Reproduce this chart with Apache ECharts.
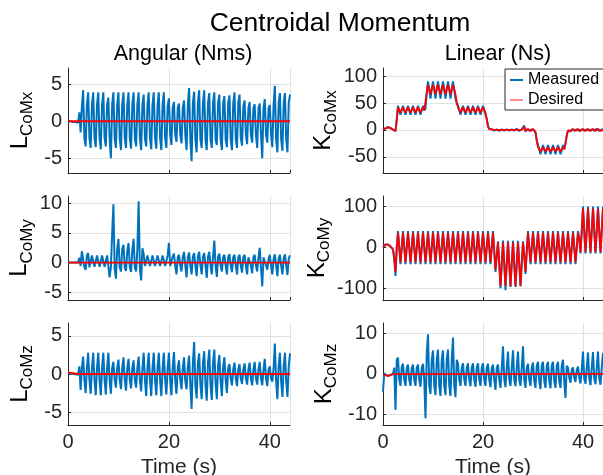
<!DOCTYPE html>
<html lang="en">
<head>
<meta charset="UTF-8">
<title>Centroidal Momentum</title>
<script src="https://cdn.jsdelivr.net/npm/echarts@6/dist/echarts.min.js"></script>
<style>html,body{margin:0;padding:0;background:#fff}</style>
</head>
<body>
<div id="main" style="width:603px;height:475px"></div>
<script>
// sampling step of the traces (s), values every quarter second
var DT = 0.25;
var xTicks = [0, 20, 40];

// ---- angular momentum, measured ----
var LxMeas = [
  0,0,0,0,  -0.1,-0.1,-0.1,-0.1,  -0.2,1.2,-1.5,2.0,  4.2,-2.3,-3.4,2.3,
  3.9,-2.3,-3.6,2.3,  3.9,-2.3,-3.5,2.3,  3.9,-2.3,-3.8,2.3,  3.9,-2.3,-3.4,2.3,
  3.2,-2.3,-5.0,2.3,  3.9,-2.3,-3.6,2.3,  3.9,-2.3,-3.9,2.3,  3.9,-2.3,-3.6,2.3,
  3.9,-2.3,-3.7,2.3,  3.9,-2.3,-3.4,2.3,  3.9,-2.3,-3.9,2.3,  3.6,-2.3,-3.4,2.3,
  3.9,-2.3,-3.8,2.3,  3.9,-2.3,-3.7,2.3,  3.9,-2.3,-3.9,2.3,  3.9,-2.3,-3.6,2.0,
  3.1,-1.8,-3.2,1.8,  2.6,-1.8,-2.8,1.8,  2.4,-1.8,-3.0,1.8,  2.8,-1.8,-3.9,2.2,
  4.5,-2.5,-5.4,2.5,  4.0,-2.5,-4.2,2.5,  4.2,-2.5,-3.6,2.5,  4.2,-2.5,-3.9,2.5,
  3.8,-2.5,-3.6,2.5,  3.9,-2.5,-3.2,2.5,  3.6,-2.5,-3.9,2.5,  3.4,-2.5,-3.5,2.5,
  3.5,-2.5,-3.9,2.5,  3.9,-2.5,-3.6,2.5,  3.6,-2.3,-3.3,2.0,  2.8,-1.8,-3.1,1.8,
  2.6,-1.8,-2.9,1.8,  2.3,-1.8,-3.6,1.8,  2.4,-1.8,-5.0,1.8,  3.0,-1.8,-2.9,1.8,
  2.2,-1.8,-3.5,2.3,  4.8,-2.5,-4.2,2.5,  3.8,-2.5,-4.0,2.5,  3.8,-2.5,-4.2,2.5,
  3.6
];
var LyMeas = [
  0,0,0,0,  0,0,0,0,  0,0.8,-0.6,1.9,  1.6,-0.8,-1.2,1.2,
  1.6,-0.8,-0.9,1.2,  1.5,-0.7,-0.9,1.2,  1.5,-0.7,-0.9,1.2,  1.5,-0.7,-0.9,1.2,
  1.4,-2.5,-0.8,4.9,  9.8,-1.0,-2.7,2.3,  4.0,-0.8,-1.5,2.3,  3.0,-0.9,-1.4,2.0,
  3.3,-0.8,-1.6,2.2,  4.0,-0.9,-1.5,2.3,  10.3,-1.0,-3.0,2.4,  1.4,-0.6,-0.9,1.2,
  1.5,-0.6,-0.8,1.2,  1.5,-0.6,-0.8,1.2,  1.5,-0.6,-0.8,1.2,  1.5,-0.6,-0.8,1.2,
  3.3,-0.6,-0.8,1.0,  1.5,-0.5,-2.0,0.9,  1.3,-0.5,-1.5,0.9,  1.8,-0.5,-2.5,0.9,
  1.7,-0.5,-2.0,1.0,  1.6,-0.5,-2.3,1.0,  1.8,-0.5,-2.0,1.0,  1.6,-0.5,-2.6,1.0,
  1.8,-0.5,-2.0,1.0,  3.7,-0.5,-2.4,1.0,  1.5,-0.5,-1.5,0.9,  1.3,-0.5,-2.0,0.9,
  1.4,-0.5,-1.6,0.9,  1.3,-0.5,-2.0,0.9,  1.3,-0.5,-1.7,0.9,  1.3,-0.5,-2.0,0.9,
  1.2,-0.5,-1.8,0.9,  1.3,-0.5,-1.5,0.9,  2.5,-0.8,-4.0,0.9,  1.2,-0.5,-1.2,0.6,
  1.3,-0.5,-2.0,0.6,  1.4,-0.5,-2.3,0.7,  1.3,-0.5,-2.0,0.7,  1.4,-0.5,-2.1,0.7,
  1.2
];
var LzMeas = [
  0.1,0.1,0.1,0.05,  0,0,-0.05,-0.1,  -0.1,1.0,-2.1,0.8,  2.3,-0.8,-2.5,0.8,
  2.8,-0.8,-2.6,0.8,  2.8,-0.8,-2.8,0.8,  2.8,-0.8,-2.8,0.8,  2.8,-0.8,-2.7,0.8,
  2.8,-0.8,-2.6,0.8,  1.6,-0.8,-1.8,0.8,  1.9,-0.8,-2.0,0.8,  2.2,-0.8,-2.2,0.8,
  2.0,-0.8,-1.9,0.8,  1.8,-0.8,-1.8,0.8,  2.3,-0.8,-2.3,0.8,  2.8,-0.8,-2.9,0.8,
  2.8,-0.8,-2.9,0.8,  2.8,-0.8,-2.8,0.8,  2.8,-0.8,-2.9,0.8,  2.8,-0.8,-2.7,0.8,
  2.8,-0.8,-2.8,0.8,  2.9,-0.8,-2.6,0.8,  1.8,-0.8,-2.0,0.8,  2.2,-1.0,-2.0,1.0,
  2.4,-1.5,-4.6,1.5,  4.2,-1.5,-3.2,1.5,  2.7,-1.5,-3.3,1.5,  3.0,-1.5,-3.5,1.5,
  3.2,-1.5,-3.4,1.5,  3.2,-1.2,-3.3,1.2,  2.5,-1.0,-2.9,1.0,  2.2,-0.8,-2.5,0.8,
  1.3,-0.6,-1.5,0.6,  1.5,-0.6,-1.6,0.6,  1.3,-0.6,-1.3,0.6,  1.4,-0.6,-1.4,0.6,
  1.5,-0.6,-1.5,0.6,  1.6,-0.6,-1.4,0.6,  1.6,-0.6,-1.5,0.6,  2.0,-0.6,-1.6,0.6,
  1.0,-0.6,-1.0,0.8,  4.0,-1.0,-3.3,1.0,  2.8,-1.0,-3.0,1.0,  2.8,-1.0,-3.0,1.0,
  2.7
];

// ---- linear momentum, measured and desired ----
var KxMeas = [
  0,1.5,3,4.5,  5,4.5,3.5,2,  0.5,-1,-2,20,  45,36,28,37,
  45,36,28,37,  45,36,28,37,  45,36,28,37,  45,36,28,37,
  45,36,40,70,  90,75,58,76,  90,75,58,76,  90,75,58,76,
  90,75,58,76,  90,75,58,76,  90,75,58,50,  45,36,28,37,
  45,36,28,37,  45,36,28,37,  45,36,28,37,  45,36,28,37,
  45,36,28,20,  8,2,-1,1,  3,-1,-3,1,  3,-2,-3,1,
  4,-1,-3,1,  3,-1,-4,1,  3,-1,-3,2,  3,-2,-3,1,
  3,8,-3,1,  3,-1,-3,1,  3,-1,-5,-20,  -28,-36,-45,-37,
  -28,-36,-45,-37,  -28,-36,-45,-37,  -28,-36,-45,-37,  -28,-36,-45,-37,
  -28,-36,-25,-10,  -1,2,-3,1,  3,-1,-3,1,  3,-2,-3,1,
  4,-1,-3,1,  3,-1,-4,1,  3,-1,-3,2,  3,-2,-3,1,
  1
];
var KxDes = [
  0,1.5,3,4.5,  5,4.5,3.5,2,  0.5,-1,-2,18,  42,37,32,38,
  42,37,32,38,  42,37,32,38,  42,37,32,38,  42,37,32,38,
  42,37,40,68,  84,75,66,76,  84,75,66,76,  84,75,66,76,
  84,75,66,76,  84,75,66,76,  84,75,66,50,  42,37,32,38,
  42,37,32,38,  42,37,32,38,  42,37,32,38,  42,37,32,38,
  42,37,32,20,  6,1,-1,1,  2,0,-2,0,  2,0,-2,0,
  2,0,-2,0,  2,0,-2,0,  2,0,-2,0,  2,0,-2,0,
  2,6,-2,0,  2,0,-2,0,  2,0,-4,-20,  -32,-36,-40,-36,
  -32,-36,-40,-36,  -32,-36,-40,-36,  -32,-36,-40,-36,  -32,-36,-40,-36,
  -32,-36,-25,-10,  -1,1,-2,0,  2,0,-2,0,  2,0,-2,0,
  2,0,-2,0,  2,0,-2,0,  2,0,-2,0,  2,0,-2,0,
  0
];
var KyMeas = [
  0,4,7,8,  7,5,2,0,  -5,-30,-70,0,  40,0,-41,0,
  40,0,-41,0,  40,0,-41,0,  40,0,-41,0,  40,0,-41,0,
  40,0,-41,0,  40,0,-41,0,  40,0,-41,0,  40,0,-41,0,
  40,0,-41,0,  40,0,-41,0,  40,0,-41,0,  40,0,-41,0,
  40,0,-41,0,  40,0,-41,0,  40,0,-41,0,  40,0,-41,0,
  40,0,-41,0,  40,0,-41,0,  40,-10,-60,-20,  15,-40,-100,-40,
  17,-40,-105,-40,  16,-40,-97,-40,  16,-40,-97,-40,  16,-40,-95,-40,
  15,-20,-65,-10,  40,0,-41,0,  40,0,-41,0,  40,0,-41,0,
  40,0,-41,0,  40,0,-41,0,  40,0,-41,0,  40,0,-41,0,
  40,0,-41,0,  40,0,-41,0,  40,0,-41,0,  40,20,-15,40,
  100,42,-15,42,  100,42,-15,42,  100,42,-15,42,  100,42,-15,42,
  100
];
var KyDes = [
  0,4,7,8,  7,5,2,0,  -5,-25,-60,0,  36,0,-37,0,
  36,0,-37,0,  36,0,-37,0,  36,0,-37,0,  36,0,-37,0,
  36,0,-37,0,  36,0,-37,0,  36,0,-37,0,  36,0,-37,0,
  36,0,-37,0,  36,0,-37,0,  36,0,-37,0,  36,0,-37,0,
  36,0,-37,0,  36,0,-37,0,  36,0,-37,0,  36,0,-37,0,
  36,0,-37,0,  36,0,-37,0,  36,-10,-55,-20,  12,-40,-95,-40,
  12,-40,-95,-40,  12,-40,-95,-40,  12,-40,-95,-40,  12,-40,-95,-40,
  12,-20,-60,-10,  36,0,-37,0,  36,0,-37,0,  36,0,-37,0,
  36,0,-37,0,  36,0,-37,0,  36,0,-37,0,  36,0,-37,0,
  36,0,-37,0,  36,0,-37,0,  36,0,-37,0,  36,20,-12,40,
  95,40,-12,40,  95,40,-12,40,  95,40,-12,40,  95,40,-12,40,
  95
];
var KzMeas = [
  -4.5,0.2,-0.3,-0.4,  -0.4,-0.4,-0.3,-0.2,  0,1.5,-9,3.5,  4.0,-1.5,-3.0,1.8,
  2.5,-1.5,-3.0,1.5,  2.3,-1.5,-3.0,1.5,  2.3,-1.5,-3.0,1.5,  2.3,-1.5,-3.2,1.5,
  2.5,-1.5,-11,5,  9.8,-3.0,-5.0,3.5,  5.8,-3.0,-5.3,3.5,  6.0,-3.0,-5.5,3.5,
  5.8,-3.0,-5.3,3.5,  6.0,-3.0,-5.5,3.5,  9.0,-3.0,-5.8,3.5,  2.5,-1.5,-3.0,1.5,
  2.6,-1.5,-3.0,1.5,  2.6,-1.5,-3.1,1.5,  2.6,-1.5,-3.2,1.5,  2.6,-1.5,-3.0,1.5,
  2.6,-1.5,-3.0,1.5,  2.5,-1.5,-3.3,1.5,  2.3,-1.5,-4.0,1.5,  2.3,-1.5,-3.5,1.5,
  6.8,-1.5,-3.3,1.5,  5.5,-1.5,-3.0,1.5,  5.8,-1.5,-3.1,1.5,  5.5,-1.5,-3.0,1.5,
  6.8,-1.5,-3.5,1.5,  2.5,-1.5,-3.0,1.5,  2.8,-1.8,-3.5,2.0,  3.0,-1.8,-3.8,2.0,
  3.0,-1.8,-3.5,2.0,  3.0,-1.8,-3.6,2.0,  3.0,-1.8,-3.5,2.0,  3.0,-1.8,-3.5,2.0,
  3.5,-1.8,-6.0,2.0,  1.5,-1.0,-2.2,1.0,  1.6,-1.0,-2.0,1.0,  1.8,-1.0,-2.4,1.0,
  5.5,-1.2,-2.5,1.5,  5.3,-1.2,-2.8,1.5,  5.4,-1.2,-2.6,1.5,  5.5,-1.2,-2.7,1.5,
  5.2
];

// desired angular momentum and desired K_CoMz are flat, a few knots are enough
var tFlat = [0, 1, 2, 44];
var LxDes = [0, 0, 0, 0];
var LyDes = [0, 0, 0, 0];
var LzDes = [0.2, 0.1, 0, 0];
var KzDes = [0, -0.6, -0.1, 0];

var yTicks = [[-5,0,5], [-50,0,50,100], [-5,0,5,10], [-100,0,100], [-5,0,5], [-10,0,10]];
var yRange = [[-7,7.2], [-80,115], [-6.3,11.2], [-129,126], [-6.7,6.7], [-12.7,12.6]];
var yNames = ['L', 'K', 'L', 'K', 'L', 'K'];
var ySubs = ['CoMx', 'CoMx', 'CoMy', 'CoMy', 'CoMz', 'CoMz'];

var measured = [LxMeas, KxMeas, LyMeas, KyMeas, LzMeas, KzMeas];
var desired = [[tFlat, LxDes], [null, KxDes], [tFlat, LyDes], [null, KyDes], [tFlat, LzDes], [tFlat, KzDes]];

var FONT = 'Liberation Sans';
var INK = '#262626';
var BLUE = '#0072BD';
var RED = '#FF0000';

function onGrid(vals, ts) {
    return vals.map(function (v, i) { return [ts ? ts[i] : i * DT, v]; });
}

var myChart = echarts.init(document.getElementById('main'));

var grids = [], xAxes = [], yAxes = [], series = [];
var rowTop = [68, 196, 323], rowH = [105, 104, 102];
var colLeft = [68, 383], colW = [222, 220];

for (var i = 0; i < 6; i++) {
    var row = Math.floor(i / 2), col = i % 2;
    var bottom = row === 2;
    // outerBoundsMode none: keep the grids exactly where they are, labels may hang outside
    grids.push({left: colLeft[col], top: rowTop[row], width: colW[col], height: rowH[row], outerBoundsMode: 'none'});
    xAxes.push({
        type: 'value', gridIndex: i, min: 0, max: 44, interval: 20,
        axisLine: {show: true, onZero: false, lineStyle: {color: INK}},
        axisTick: {show: true, inside: true, length: 3, lineStyle: {color: INK}},
        axisLabel: {show: bottom, fontSize: 20, color: INK, fontFamily: FONT, margin: 7},
        splitLine: {show: true, showMinLine: false, lineStyle: {color: '#e2e2e2'}},
        name: bottom ? 'Time (s)' : '', nameLocation: 'middle', nameGap: 32,
        nameTextStyle: {fontSize: 21, color: INK, fontFamily: FONT}
    });
    yAxes.push({
        type: 'value', gridIndex: i, min: yRange[i][0], max: yRange[i][1],
        axisLine: {show: true, onZero: false, lineStyle: {color: INK}},
        axisTick: {show: true, inside: true, length: 3, customValues: yTicks[i], lineStyle: {color: INK}},
        axisLabel: {customValues: yTicks[i], fontSize: 20, color: INK, fontFamily: FONT, margin: 6},
        splitLine: {show: true, lineStyle: {color: '#e2e2e2'}},
        name: '{m|' + yNames[i] + '}{s|' + ySubs[i] + '}',
        nameLocation: 'middle', nameRotate: 90, nameGap: col === 0 ? 36 : 47,
        nameTextStyle: {
            rich: {
                m: {fontSize: 24, lineHeight: 24, verticalAlign: 'top', color: '#000', fontFamily: FONT},
                s: {fontSize: 17, lineHeight: 17, verticalAlign: 'top', padding: [11, 0, 0, 0], color: '#000', fontFamily: FONT}
            }
        }
    });
    series.push({
        name: 'Measured', type: 'line', xAxisIndex: i, yAxisIndex: i,
        data: onGrid(measured[i]), showSymbol: false, sampling: null,
        lineStyle: {color: BLUE, width: 2}, itemStyle: {color: BLUE}
    });
    series.push({
        name: 'Desired', type: 'line', xAxisIndex: i, yAxisIndex: i,
        data: onGrid(desired[i][1], desired[i][0]), showSymbol: false,
        lineStyle: {color: RED, width: 1.8}, itemStyle: {color: RED}
    });
}

var option = {
    animation: false,
    backgroundColor: '#fff',
    title: [
        {text: 'Centroidal Momentum', left: 335, top: 5, textAlign: 'center',
         textStyle: {fontSize: 26.5, fontWeight: 'normal', color: '#000', fontFamily: FONT}},
        {text: 'Angular (Nms)', left: 178, top: 38, textAlign: 'center',
         textStyle: {fontSize: 21.5, fontWeight: 'normal', color: '#000', fontFamily: FONT}},
        {text: 'Linear (Ns)', left: 493, top: 38, textAlign: 'center',
         textStyle: {fontSize: 21.5, fontWeight: 'normal', color: '#000', fontFamily: FONT}}
    ],
    legend: {
        data: [{name: 'Measured', itemStyle: {color: BLUE}}, {name: 'Desired', itemStyle: {color: '#ff8c8c'}}],
        orient: 'vertical', left: 505, top: 69,
        backgroundColor: '#fff', borderColor: INK, borderWidth: 1, borderRadius: 0,
        padding: [3, 25, 2, 5], itemGap: 4, itemWidth: 13, itemHeight: 2, icon: 'rect',
        textStyle: {fontSize: 16, color: '#000', fontFamily: FONT}
    },
    grid: grids,
    xAxis: xAxes,
    yAxis: yAxes,
    series: series
};
myChart.setOption(option);
</script>
</body>
</html>
